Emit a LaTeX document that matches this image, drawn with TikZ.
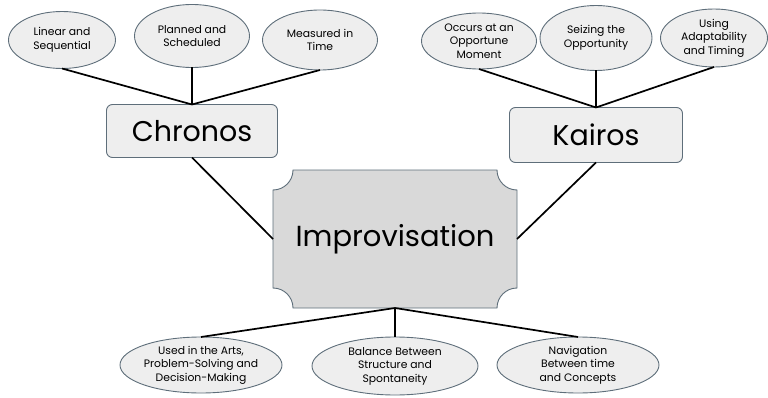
\documentclass[tikz,border=0pt]{standalone}
\usepackage{fontspec}
\setmainfont{Poppins}
\usetikzlibrary{positioning,shapes.geometric,backgrounds}
\definecolor{edgegray}{HTML}{5E6E7A}
\definecolor{bubblefill}{HTML}{EEEEEE}
\definecolor{plaquefill}{HTML}{D9D9D9}

\begin{document}
\begin{tikzpicture}[
  x=1pt, y=1pt,
  bubble/.style={ellipse, draw=edgegray, fill=bubblefill, line width=0.9pt, align=center, inner xsep=-3pt, inner ysep=-2pt, outer sep=0pt, font=\fontsize{10.8}{13.5}\selectfont},
  topic/.style={draw=edgegray, fill=bubblefill, rounded corners=6pt, line width=0.9pt, minimum height=53pt, outer sep=0pt, font=\fontsize{28.5}{32}\selectfont},
  link/.style={line width=1.7pt, black}
]
\useasboundingbox (0,0) rectangle (768,397);

% the three hubs
\node[topic, minimum width=171pt] (chronos) at (192,266) {Chronos};
\node[topic, minimum width=173pt, minimum height=55pt] (kairos) at (596,262) {Kairos};
\node[minimum width=244pt, minimum height=138pt, outer sep=0pt, font=\fontsize{29}{34}\selectfont] (impro) at (395,158) {Improvisation};
\begin{scope}[on background layer]
\draw[draw=edgegray, fill=plaquefill, line width=0.9pt]
  ([xshift=20pt]impro.north west) -- ([xshift=-20pt]impro.north east)
  arc[start angle=180, end angle=270, radius=20pt] -- ([yshift=20pt]impro.south east)
  arc[start angle=90, end angle=180, radius=20pt] -- ([xshift=20pt]impro.south west)
  arc[start angle=0, end angle=90, radius=20pt] -- ([yshift=-20pt]impro.north west)
  arc[start angle=270, end angle=360, radius=20pt] -- cycle;
\end{scope}

% chronos bubbles
\node[bubble, minimum width=115pt, minimum height=63pt, above=37pt of chronos] (pla) {Planned and\\Scheduled};
\node[bubble, minimum width=107pt, minimum height=57pt] (lin) at (62,357) {Linear and\\Sequential};
\node[bubble, minimum width=115pt, minimum height=60pt] (mea) at (320,357) {Measured in\\Time};

% kairos bubbles
\node[bubble, minimum width=112pt, minimum height=65pt, above=37pt of kairos] (sei) {Seizing the\\Opportunity};
\node[bubble, minimum width=115pt, minimum height=56pt] (occ) at (479,356) {Occurs at an\\Opportune\\Moment};
\node[bubble, minimum width=107pt, minimum height=58pt] (usi) at (714,359) {Using\\Adaptability\\and Timing};

% improvisation bubbles
\node[bubble, minimum width=166pt, minimum height=58pt, below=29pt of impro] (bal) {Balance Between\\Structure and\\Spontaneity};
\node[bubble, minimum width=162pt, minimum height=56pt] (use) at (201,32) {Used in the Arts,\\Problem-Solving and\\Decision-Making};
\node[bubble, minimum width=162pt, minimum height=56pt] (nav) at (578,32) {Navigation\\Between time\\and Concepts};

\draw[link] (lin.south) -- (chronos.north);
\draw[link] (pla.south) -- (chronos.north);
\draw[link] (mea.south) -- (chronos.north);
\draw[link] (occ.south) -- (kairos.north);
\draw[link] (sei.south) -- (kairos.north);
\draw[link] (usi.south) -- (kairos.north);
\draw[link] (chronos.south) -- (impro.west);
\draw[link] (kairos.south) -- (impro.east);
\draw[link] (impro.south) -- (use.north);
\draw[link] (impro.south) -- (bal.north);
\draw[link] (impro.south) -- (nav.north);
\end{tikzpicture}
\end{document}
